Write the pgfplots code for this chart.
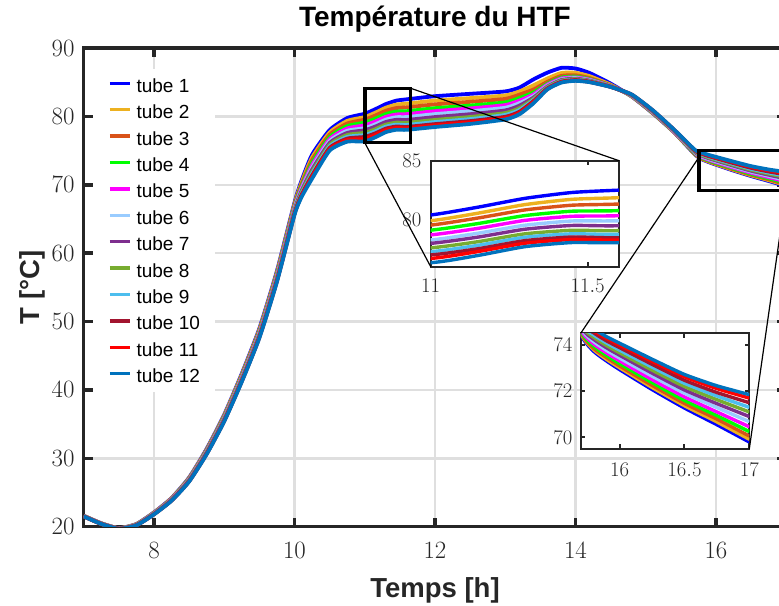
\documentclass[border=0pt]{standalone}
\usepackage{pgfplots}
\pgfplotsset{compat=1.18}
\usepackage{pgfplotstable}
\usepackage{fontspec}
\newfontfamily\arial{Liberation Sans}

\definecolor{c1}{rgb}{0,0,1}
\definecolor{c2}{rgb}{0.929,0.694,0.125}
\definecolor{c3}{rgb}{0.850,0.325,0.098}
\definecolor{c4}{rgb}{0,1,0}
\definecolor{c5}{rgb}{1,0,1}
\definecolor{c6}{rgb}{0.6,0.8,1}
\definecolor{c7}{rgb}{0.494,0.184,0.556}
\definecolor{c8}{rgb}{0.466,0.674,0.188}
\definecolor{c9}{rgb}{0.301,0.745,0.933}
\definecolor{c10}{rgb}{0.635,0.078,0.184}
\definecolor{c11}{rgb}{1,0,0}
\definecolor{c12}{rgb}{0,0.447,0.741}
\definecolor{axc}{rgb}{0.15,0.15,0.15}
\definecolor{gridc}{rgb}{0.875,0.875,0.875}

\pgfplotstableread{
x t1 t2 t3 t4 t5 t6 t7 t8 t9 t10 t11 t12
7.0 21.60 21.59 21.58 21.57 21.56 21.55 21.54 21.53 21.52 21.51 21.51 21.50
7.25 20.50 20.49 20.48 20.47 20.46 20.45 20.44 20.43 20.42 20.41 20.41 20.40
7.5 19.80 19.79 19.78 19.77 19.76 19.75 19.74 19.73 19.72 19.71 19.71 19.70
7.75 20.40 20.38 20.35 20.33 20.31 20.29 20.27 20.26 20.24 20.23 20.21 20.20
8.0 22.10 22.06 22.03 22.00 21.97 21.94 21.91 21.88 21.86 21.84 21.82 21.80
8.25 24.20 24.15 24.11 24.06 24.02 23.98 23.95 23.91 23.88 23.85 23.83 23.80
8.5 27.20 27.13 27.06 27.00 26.94 26.88 26.82 26.77 26.72 26.68 26.64 26.60
8.75 31.40 31.30 31.22 31.13 31.05 30.97 30.90 30.82 30.76 30.70 30.66 30.60
9.0 36.40 36.28 36.17 36.06 35.96 35.86 35.77 35.68 35.60 35.53 35.47 35.40
9.25 42.40 42.26 42.12 41.99 41.87 41.75 41.64 41.54 41.44 41.36 41.28 41.20
9.5 49.00 48.83 48.68 48.52 48.38 48.24 48.12 47.99 47.88 47.78 47.70 47.60
9.75 57.40 57.21 57.03 56.86 56.70 56.54 56.39 56.25 56.12 56.01 55.91 55.80
10.0 67.40 67.18 66.99 66.79 66.61 66.43 66.27 66.10 65.96 65.83 65.73 65.60
10.1 70.60 70.31 70.05 69.78 69.54 69.30 69.09 68.87 68.68 68.51 68.37 68.20
10.25 74.40 73.98 73.60 73.21 72.86 72.51 72.20 71.88 71.60 71.36 71.15 70.90
10.5 78.00 77.64 77.31 76.98 76.68 76.38 76.11 75.84 75.60 75.39 75.21 75.00
10.75 79.75 79.34 78.96 78.58 78.23 77.89 77.58 77.27 76.99 76.75 76.54 76.30
11.0 80.39 79.90 79.53 79.10 78.70 78.27 77.98 77.60 77.27 77.00 76.70 76.34
11.15 81.05 80.54 80.13 79.66 79.25 78.84 78.51 78.12 77.81 77.52 77.28 76.95
11.3 81.80 81.27 80.82 80.34 79.93 79.52 79.18 78.79 78.50 78.21 77.99 77.70
11.45 82.30 81.72 81.22 80.71 80.28 79.88 79.50 79.09 78.79 78.52 78.31 78.05
11.6 82.50 81.86 81.32 80.76 80.33 79.90 79.48 79.06 78.75 78.46 78.27 78.04
12.0 82.95 82.31 81.76 81.20 80.76 80.33 79.90 79.48 79.17 78.87 78.68 78.45
12.5 83.30 82.67 82.13 81.58 81.16 80.74 80.32 79.91 79.60 79.31 79.13 78.90
13.0 83.65 83.06 82.56 82.05 81.65 81.26 80.87 80.49 80.21 79.94 79.76 79.55
13.2 84.20 83.64 83.17 82.68 82.30 81.93 81.56 81.19 80.92 80.67 80.50 80.30
13.4 85.40 84.53 83.93 83.48 83.20 82.95 82.74 82.53 82.36 82.22 82.08 81.90
13.6 86.40 85.54 85.05 84.78 84.64 84.49 84.37 84.27 84.17 84.10 84.02 83.95
13.8 87.10 86.35 85.92 85.68 85.55 85.42 85.32 85.23 85.14 85.08 85.01 84.95
14.0 87.00 86.37 86.01 85.81 85.70 85.60 85.51 85.43 85.36 85.31 85.25 85.20
14.2 86.35 85.88 85.61 85.46 85.38 85.30 85.23 85.18 85.12 85.08 85.04 85.00
14.5 84.80 84.63 84.53 84.47 84.44 84.41 84.39 84.37 84.35 84.33 84.32 84.30
14.8 82.90 82.92 82.94 82.97 83.00 83.03 83.06 83.09 83.12 83.15 83.18 83.20
15.1 80.45 80.48 80.51 80.55 80.60 80.65 80.69 80.74 80.78 80.82 80.87 80.90
15.4 77.70 77.73 77.76 77.79 77.83 77.88 77.92 77.96 78.00 78.03 78.07 78.10
15.7 74.43 74.48 74.52 74.58 74.65 74.73 74.79 74.86 74.93 74.99 75.05 75.10
15.8 73.72 73.79 73.85 73.94 74.04 74.14 74.24 74.33 74.43 74.52 74.61 74.68
15.9 73.30 73.37 73.45 73.54 73.65 73.76 73.87 73.97 74.08 74.17 74.28 74.35
16.0 72.93 73.01 73.09 73.19 73.31 73.43 73.55 73.66 73.77 73.88 73.99 74.07
16.25 72.07 72.16 72.25 72.37 72.50 72.65 72.78 72.91 73.04 73.16 73.29 73.38
16.5 71.27 71.37 71.47 71.60 71.75 71.91 72.05 72.20 72.34 72.47 72.62 72.72
16.75 70.55 70.67 70.79 70.94 71.10 71.29 71.46 71.63 71.79 71.94 72.11 72.23
17.0 69.80 69.92 70.06 70.25 70.46 70.68 70.90 71.10 71.30 71.50 71.70 71.85
}\htf

\newcommand{\allplots}[1]{%
  \pgfplotsinvokeforeach{1,...,12}{%
    \addplot[c##1, line width=#1, line join=round, smooth, tension=0.35, mark=none] table[x=x, y=t##1]{\htf};
  }%
}

\pgfplotsset{
  matlabinset/.style={
    scale only axis, anchor=south west,
    axis background/.style={fill=white},
    axis line style={axc, line width=2pt},
    tick style={axc, line width=2pt},
    major tick length=4.5pt, tick align=inside,
    tick label style={font=\fontsize{21}{21}\selectfont, text=axc, inner sep=0pt},
  }
}

\begin{document}
\begin{tikzpicture}
\path[use as bounding box] (-83.75pt,-78.3pt) rectangle (695.25pt,526.7pt);

\begin{axis}[
  at={(0pt,0pt)}, anchor=south west,
  scale only axis, width=702.5pt, height=478.7pt,
  xmin=7, xmax=17, ymin=20, ymax=90,
  xtick={8,10,12,14,16}, ytick={20,30,...,90},
  grid=major, major grid style={gridc, line width=2.5pt},
  axis line style={axc, line width=3.5pt},
  tick style={axc, line width=3.5pt},
  major tick length=9pt, tick align=inside,
  tick label style={font=\fontsize{26}{26}\selectfont, text=axc, inner sep=0pt},
  xticklabel style={anchor=north, yshift=-16pt},
  yticklabel style={anchor=east, xshift=-9pt},
  title={Température du HTF},
  title style={font=\arial\bfseries\fontsize{28}{30}\selectfont, at={(axis description cs:0.5,1)}, anchor=base, yshift=15pt, inner sep=0pt, text=black},
  xlabel={Temps [h]},
  xlabel style={font=\arial\bfseries\fontsize{27.5}{30}\selectfont, at={(axis description cs:0.5,0)}, anchor=base, yshift=-71pt, inner sep=0pt, text=axc},
  ylabel={T [°C]},
  ylabel style={font=\arial\bfseries\fontsize{27.5}{30}\selectfont, at={(axis description cs:-0.0623,0.5)}, anchor=base, inner sep=0pt, text=axc},
  clip mode=individual,
  legend entries={tube 1,tube 2,tube 3,tube 4,tube 5,tube 6,tube 7,tube 8,tube 9,tube 10,tube 11,tube 12},
  legend cell align=left,
  legend image code/.code={\draw[#1, line width=3.3pt] (0pt,2pt) -- (20pt,2pt);},
  legend style={at={(axis description cs:0.0132,0.956)}, anchor=north west, draw=none, fill=white,
    inner xsep=15pt, inner ysep=9pt, row sep=12.4pt, column sep=5pt,
    nodes={inner sep=0pt, text height=14pt, text depth=0pt, font=\arial\fontsize{19}{22}\selectfont}},
]
\allplots{3.8pt}
\draw[black, line width=3.5pt] (axis cs:11,76.15) rectangle (axis cs:11.654,84.11);
\draw[black, line width=3.5pt] (axis cs:15.76,69.13) rectangle (axis cs:17,74.98);
\coordinate (r1ne) at (axis cs:11.654,84.11);
\coordinate (r1sw) at (axis cs:11,76.15);
\coordinate (r2w) at (axis cs:15.76,74.06);
\coordinate (r2se) at (axis cs:17,69.13);
\end{axis}

\begin{axis}[matlabinset,
  at={(346.95pt,260pt)}, width=188.3pt, height=106pt,
  xmin=11, xmax=11.6, ymin=76, ymax=85,
  xtick={11,11.5}, ytick={80,85},
  xticklabel style={anchor=north, yshift=-12pt},
  yticklabel style={anchor=east, xshift=-9pt},
]
\allplots{3.4pt}
\coordinate (i1ne) at (rel axis cs:1,1);
\coordinate (i1sw) at (rel axis cs:0,0);
\end{axis}

\begin{axis}[matlabinset,
  at={(496.95pt,77.7pt)}, width=168.6pt, height=115.7pt,
  xmin=15.7, xmax=17, ymin=69.5, ymax=74.5,
  xtick={16,16.5,17}, ytick={70,72,74},
  xticklabel style={anchor=north, yshift=-14pt},
  yticklabel style={anchor=east, xshift=-8pt},
]
\allplots{3.4pt}
\coordinate (i2nw) at (rel axis cs:0,1);
\coordinate (i2se) at (rel axis cs:1,0);
\end{axis}

\draw[black, line width=1.2pt] (r1ne) -- (i1ne);
\draw[black, line width=1.2pt] (r1sw) -- (i1sw);
\draw[black, line width=1.2pt] (r2w) -- (i2nw);
\draw[black, line width=1.2pt] (r2se) -- (i2se);
\end{tikzpicture}
\end{document}
